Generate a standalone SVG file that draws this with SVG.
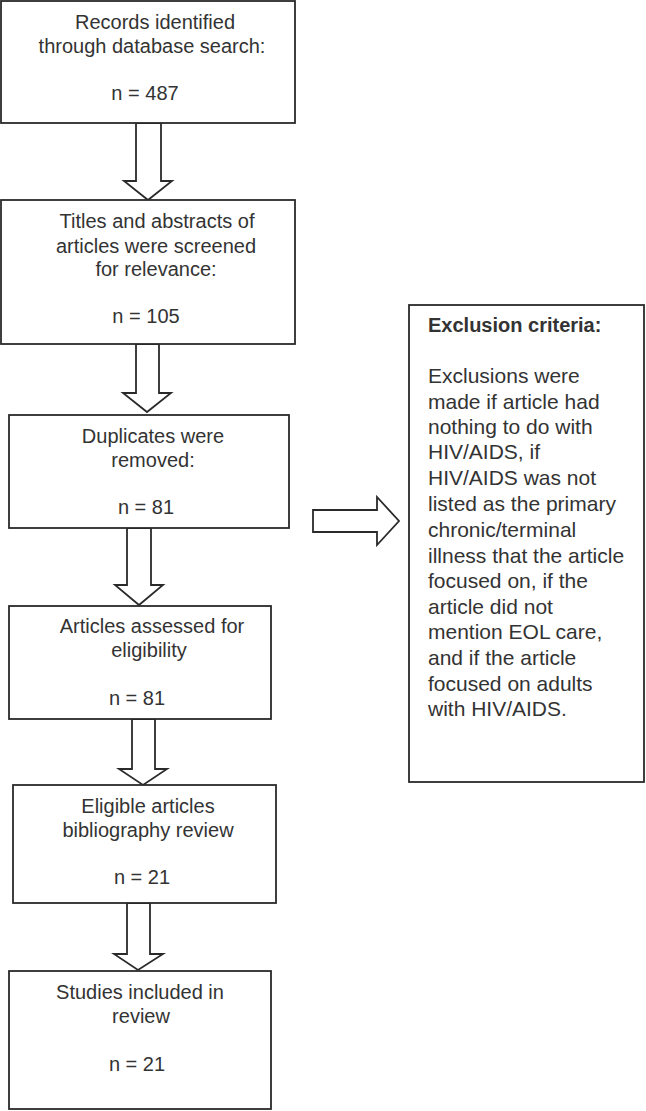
<svg xmlns="http://www.w3.org/2000/svg" width="646" height="1111" viewBox="0 0 646 1111">
<style>
.box{fill:#fff;stroke:#2a2a2a;stroke-width:1.8}
.arr{fill:#fff;stroke:#2a2a2a;stroke-width:1.8;stroke-linejoin:miter}
text{font-family:"Liberation Sans",Arial,sans-serif;font-size:20px;fill:#333}
.c{text-anchor:middle}
.ex{font-size:21px}
.b{font-weight:bold;font-size:20px}
</style>
<rect width="646" height="1111" fill="#fff"/>
<g id="connectors">
<polygon class="arr" points="136,123 161,123 161,181 172,181 148,200 124,181 136,181"/>
<polygon class="arr" points="136,344 159,344 159,393 171,393 147,412 123,393 136,393"/>
<polygon class="arr" points="127,528 151,528 151,585 163,585 139,605 115,585 127,585"/>
<polygon class="arr" points="132,719 155,719 155,769 167,769 143,785 119,769 132,769"/>
<polygon class="arr" points="127,903 150,903 150,954 163,954 138,970 114,954 127,954"/>
<polygon class="arr" points="313,510 377,510 377,497 399,521 377,545 377,532 313,532"/>
</g>
<g id="n1">
<rect class="box" x="1" y="1" width="294" height="122"/>
<text class="c" x="155" y="29">Records identified</text>
<text class="c" x="152" y="53">through database search:</text>
<text class="c" x="145" y="100">n = 487</text>
</g>
<g id="n2">
<rect class="box" x="1" y="200" width="294" height="144"/>
<text class="c" x="157" y="228">Titles and abstracts of</text>
<text class="c" x="156" y="253">articles were screened</text>
<text class="c" x="156" y="276">for relevance:</text>
<text class="c" x="146" y="323">n = 105</text>
</g>
<g id="n3">
<rect class="box" x="9" y="415" width="280" height="113"/>
<text class="c" x="153" y="443">Duplicates were</text>
<text class="c" x="153" y="467">removed:</text>
<text class="c" x="146" y="514">n = 81</text>
</g>
<g id="n4">
<rect class="box" x="9" y="606" width="262" height="113"/>
<text class="c" x="152" y="633">Articles assessed for</text>
<text class="c" x="149" y="657">eligibility</text>
<text class="c" x="137" y="705">n = 81</text>
</g>
<g id="n5">
<rect class="box" x="13" y="785" width="263" height="118"/>
<text class="c" x="148" y="813">Eligible articles</text>
<text class="c" x="148" y="837">bibliography review</text>
<text class="c" x="142" y="884">n = 21</text>
</g>
<g id="n6">
<rect class="box" x="9" y="971" width="262" height="138"/>
<text class="c" x="140" y="999">Studies included in</text>
<text class="c" x="141" y="1023">review</text>
<text class="c" x="137" y="1071">n = 21</text>
</g>
<g id="exclusion">
<rect class="box" x="409" y="305" width="235" height="477"/>
<text class="b" x="428" y="332">Exclusion criteria:</text>
<text class="ex" x="428" y="383">Exclusions were</text>
<text class="ex" x="428" y="409">made if article had</text>
<text class="ex" x="428" y="434">nothing to do with</text>
<text class="ex" x="428" y="459">HIV/AIDS, if</text>
<text class="ex" x="428" y="485">HIV/AIDS was not</text>
<text class="ex" x="428" y="511">listed as the primary</text>
<text class="ex" x="428" y="537">chronic/terminal</text>
<text class="ex" x="428" y="563">illness that the article</text>
<text class="ex" x="428" y="588">focused on, if the</text>
<text class="ex" x="428" y="614">article did not</text>
<text class="ex" x="428" y="639">mention EOL care,</text>
<text class="ex" x="428" y="665">and if the article</text>
<text class="ex" x="428" y="691">focused on adults</text>
<text class="ex" x="428" y="716">with HIV/AIDS.</text>
</g>
</svg>
